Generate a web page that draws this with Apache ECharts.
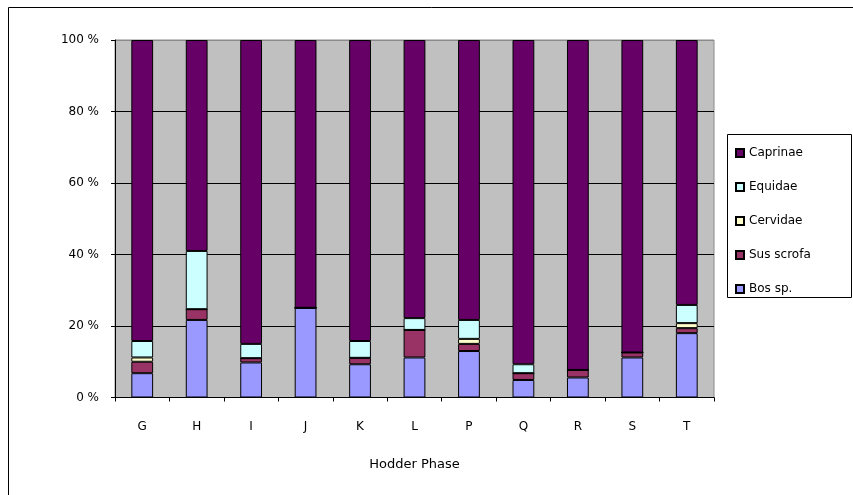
<!DOCTYPE html>
<html>
<head>
<meta charset="utf-8">
<script src="https://cdn.jsdelivr.net/npm/echarts@6/dist/echarts.min.js"></script>
<style>
  html, body { margin: 0; padding: 0; background: #ffffff; }
  #chart { width: 853px; height: 495px; }
</style>
</head>
<body>
<div id="chart"></div>
<script>
// Hodder phases and the percentage of each taxon in the identified bone count
const phases = ['G', 'H', 'I', 'J', 'K', 'L', 'P', 'Q', 'R', 'S', 'T'];
const bos      = [6.8, 21.7, 9.8, 25.1, 9.3, 11.2, 13.0, 4.9, 5.6, 11.2, 18.0];
const susScrofa = [3.2, 3.0, 1.2, 0, 1.8, 7.7, 2.0, 1.9, 2.1, 1.4, 1.4];
const cervidae = [1.2, 0, 0, 0, 0, 0, 1.4, 0, 0, 0, 1.4];
const equidae  = [4.6, 16.3, 4.0, 0, 4.7, 3.3, 5.3, 2.5, 0, 0, 5.1];
const caprinae = [84.2, 59.0, 85.0, 74.9, 84.2, 77.8, 78.3, 90.7, 92.3, 87.4, 74.1];

const yTicks = [0, 20, 40, 60, 80, 100];
const legendOrder = ['Caprinae', 'Equidae', 'Cervidae', 'Sus scrofa', 'Bos sp.'];

const FONT = 'DejaVu Sans';

const chart = echarts.init(document.getElementById('chart'), null, { renderer: 'canvas' });

function stackSeries(name, data, color) {
  return {
    name: name,
    type: 'bar',
    stack: 'total',
    barWidth: '40%',
    data: data,
    itemStyle: { color: color, borderColor: '#000000', borderWidth: 1 },
    emphasis: { disabled: true }
  };
}

chart.setOption({
  animation: false,
  backgroundColor: '#ffffff',
  textStyle: { fontFamily: FONT, color: '#000000' },
  grid: {
    left: 115, right: 139, top: 40, bottom: 97.5,
    show: true,
    backgroundColor: '#c0c0c0',
    borderColor: '#8a8a8a',
    borderWidth: 1
  },
  legend: {
    orient: 'vertical',
    left: 730,
    top: 141,
    data: legendOrder,
    itemWidth: 8,
    itemHeight: 8,
    itemGap: 20,
    icon: 'rect',
    textStyle: { fontFamily: FONT, fontSize: 12, color: '#000000', lineHeight: 14 },
    selectedMode: false
  },
  xAxis: {
    type: 'category',
    data: phases,
    boundaryGap: true,
    name: 'Hodder Phase',
    nameLocation: 'middle',
    nameGap: 61,
    nameTextStyle: { fontFamily: FONT, fontSize: 13, color: '#000000' },
    axisLine: { lineStyle: { color: '#000000', width: 1 } },
    axisTick: { show: true, length: 4, lineStyle: { color: '#000000' } },
    axisLabel: { margin: 23, fontFamily: FONT, fontSize: 12, color: '#000000' },
    splitLine: { show: false }
  },
  yAxis: {
    type: 'value',
    min: yTicks[0],
    max: yTicks[yTicks.length - 1],
    interval: yTicks[1] - yTicks[0],
    axisLine: { show: true, lineStyle: { color: '#000000', width: 1 } },
    axisTick: { show: true, length: 4, lineStyle: { color: '#000000' } },
    axisLabel: {
      margin: 16,
      fontFamily: FONT,
      fontSize: 12,
      color: '#000000',
      formatter: '{value} %'
    },
    splitLine: {
      show: true,
      lineStyle: { color: ['#000000', '#000000', '#000000', '#000000', '#000000', '#8a8a8a'], width: 1 }
    }
  },
  series: [
    stackSeries('Bos sp.', bos, '#9999ff'),
    stackSeries('Sus scrofa', susScrofa, '#993366'),
    stackSeries('Cervidae', cervidae, '#ffffcc'),
    stackSeries('Equidae', equidae, '#ccffff'),
    stackSeries('Caprinae', caprinae, '#660066')
  ],
  graphic: [
    {
      // chart area frame
      type: 'rect',
      silent: true,
      z: -1,
      shape: { x: 8.5, y: 7.5, width: 900, height: 600 },
      style: { fill: null, stroke: '#000000', lineWidth: 1 }
    },
    {
      // legend frame
      type: 'rect',
      silent: true,
      shape: { x: 727.5, y: 134.5, width: 124, height: 163 },
      style: { fill: null, stroke: '#000000', lineWidth: 1 }
    }
  ]
});
</script>
</body>
</html>
